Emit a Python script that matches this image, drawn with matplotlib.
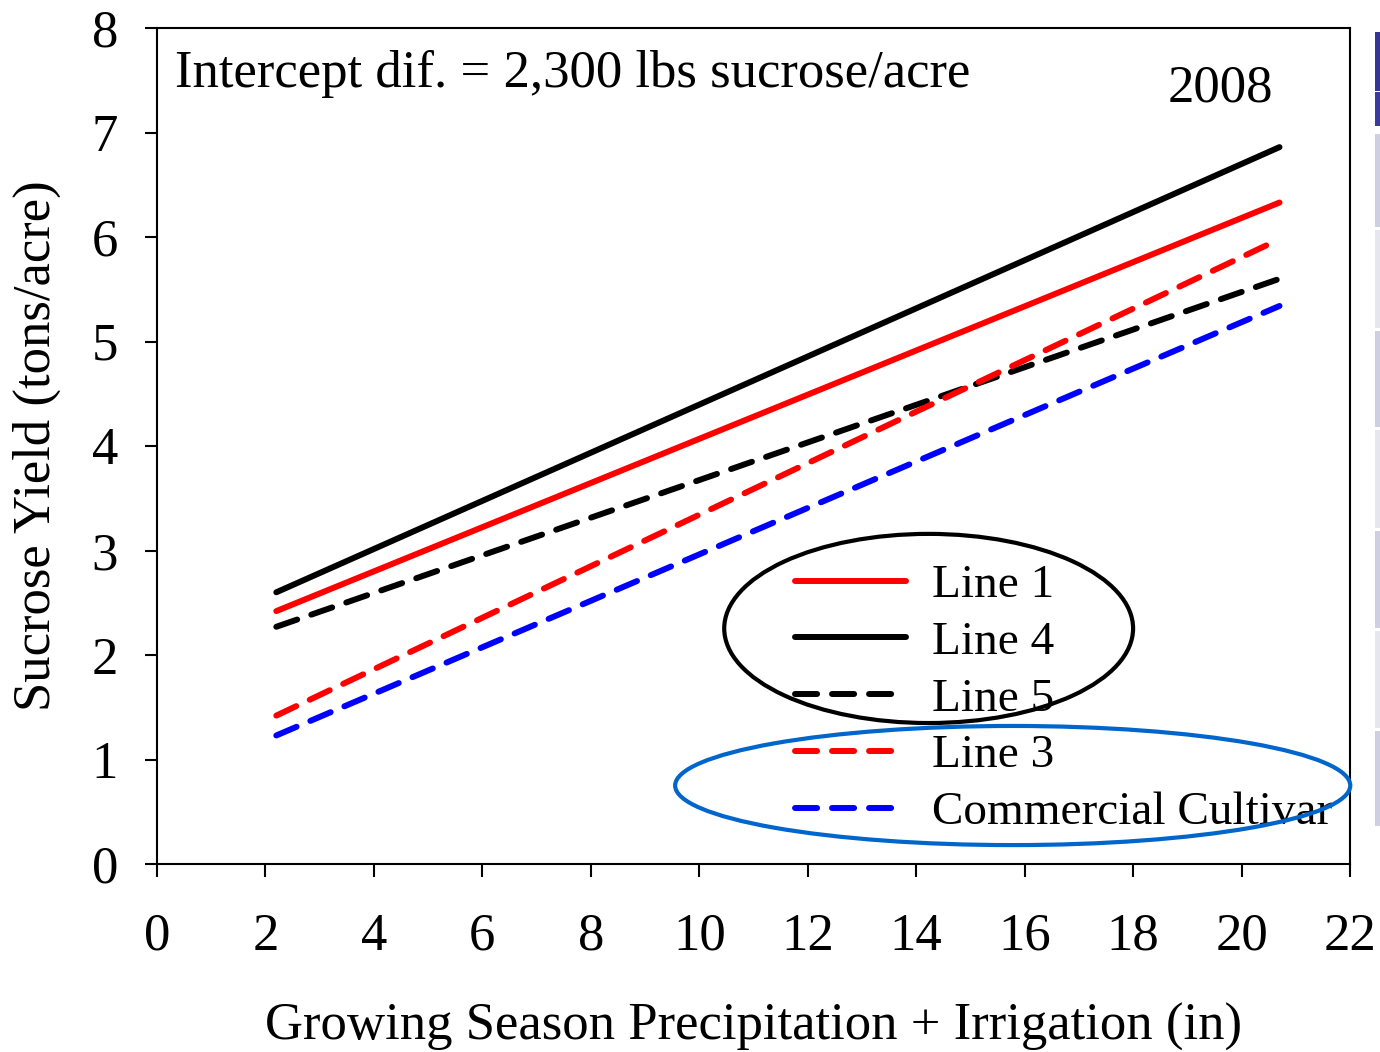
import matplotlib
matplotlib.use("Agg")
import matplotlib.pyplot as plt
from matplotlib.patches import Ellipse, Rectangle
import numpy as np

plt.rcParams['font.family'] = ['Liberation Serif', 'DejaVu Serif']
plt.rcParams['font.size'] = 38

# regression lines: yield at the low and high end of water supply
water = [2.2, 20.7]
line_1 = [2.42, 6.33]
line_4 = [2.60, 6.86]
line_5 = [2.27, 5.60]
line_3 = [1.42, 5.98]
commercial = [1.23, 5.34]

labels = ['Line 1', 'Line 4', 'Line 5', 'Line 3', 'Commercial Cultivar']
series = [line_1, line_4, line_5, line_3, commercial]
colors = ['#ff0000', '#000000', '#000000', '#ff0000', '#0000ff']
dashed = [False, False, True, True, True]

x_ticks = np.arange(0, 23, 2)
y_ticks = np.arange(0, 9, 1)

W, H = 1380, 1052
fig = plt.figure(figsize=(W / 100, H / 100), dpi=100)
ax = fig.add_axes([157 / W, 1 - 864 / H, (1350 - 157) / W, (864 - 28) / H])

for lab, ys, c, d in zip(labels, series, colors, dashed):
    ls = (0, (3.7, 2.5)) if d else '-'
    ax.plot(water, ys, color=c, lw=4.3, ls=ls, label=lab,
            solid_capstyle='round', dash_capstyle='round')

ax.set_xlim(0, 22)
ax.set_ylim(0, 8)
ax.set_xticks(x_ticks)
ax.set_yticks(y_ticks)
ax.tick_params(direction='out', length=9, width=1.5, labelsize=38)
ax.tick_params(axis='x', pad=26)
ax.tick_params(axis='y', pad=19)
for s in ax.spines.values():
    s.set_linewidth(1.5)

ax.set_xlabel('Growing Season Precipitation + Irrigation (in)', fontsize=38)
ax.xaxis.label.set_va('baseline')
ax.xaxis.set_label_coords(0.5, -0.2105)
ax.set_ylabel('Sucrose Yield (tons/acre)', fontsize=38)
ax.yaxis.label.set_rotation_mode('anchor')
ax.yaxis.label.set_va('baseline')
ax.yaxis.label.set_ha('center')
ax.yaxis.set_label_coords(-0.0897, 0.5)

ax.text(0.0151, 0.929, 'Intercept dif. = 2,300 lbs sucrose/acre',
        transform=ax.transAxes, va='baseline', ha='left', fontsize=38)
ax.text(0.9355, 0.9115, '2008', transform=ax.transAxes,
        va='baseline', ha='right', fontsize=38)

leg = ax.legend(loc='upper left', bbox_to_anchor=(0.5348, 0.3588),
                frameon=False, fontsize=34, handlelength=2.35,
                handletextpad=0.55, labelspacing=0.29,
                borderpad=0, borderaxespad=0)

# circled groups in the legend
ax.add_patch(Ellipse((14.23, 2.254), 7.54, 1.81, fill=False,
                     ec='black', lw=3, zorder=6, clip_on=False))
ax.add_patch(Ellipse((15.78, 0.751), 12.45, 1.14, fill=False,
                     ec='#0066cc', lw=3, zorder=6, clip_on=False))

# slide side bar on the right edge
bands = [(32, 91, '#34349a'), (92, 126, '#3a3aa2'),
         (134, 227, '#cfcfe2'), (230, 328, '#e6e6ef'),
         (331, 427, '#cfcfe2'), (430, 528, '#e6e6ef'),
         (531, 628, '#cfcfe2'), (631, 728, '#e6e6ef'),
         (731, 826, '#cfcfe2')]
for top, bot, c in bands:
    fig.patches.append(Rectangle((1375 / W, 1 - bot / H), 5 / W, (bot - top) / H,
                                 transform=fig.transFigure, color=c, lw=0))

fig.savefig('out.png', dpi=100)
